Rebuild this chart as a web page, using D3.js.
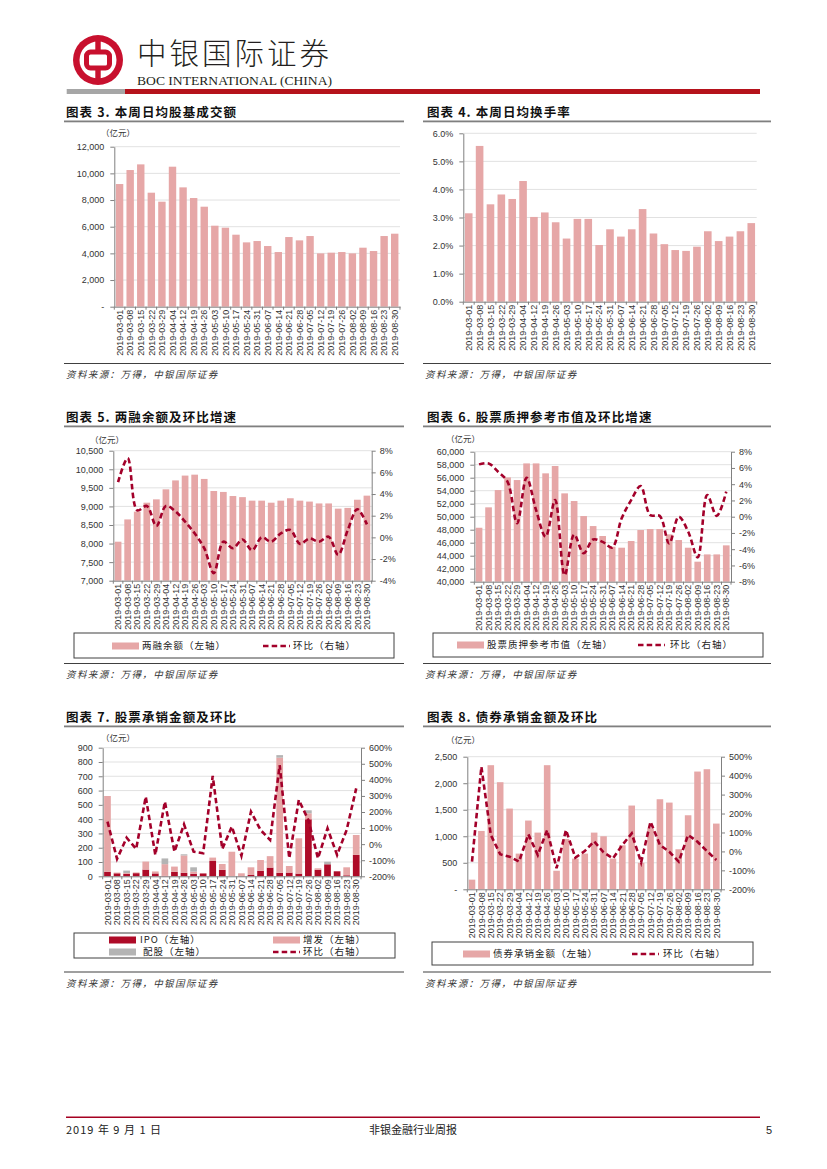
<!DOCTYPE html>
<html><head><meta charset="utf-8">
<script src="https://cdn.jsdelivr.net/npm/d3@7"></script>
<style>
html,body{margin:0;padding:0;background:#fff;}
svg{display:block;}
</style></head><body>
<svg id="page" width="827" height="1169"></svg>
<script>
// ---------- DATA ----------
const dates = ["2019-03-01","2019-03-08","2019-03-15","2019-03-22","2019-03-29","2019-04-04","2019-04-12","2019-04-19","2019-04-26","2019-05-03","2019-05-10","2019-05-17","2019-05-24","2019-05-31","2019-06-07","2019-06-14","2019-06-21","2019-06-28","2019-07-05","2019-07-12","2019-07-19","2019-07-26","2019-08-02","2019-08-09","2019-08-16","2019-08-23","2019-08-30"];

// 图表3 本周日均股基成交额 (亿元)
const turnoverAmt = [9200,10250,10675,8550,7875,10500,8950,8150,7500,6075,5925,5400,4825,4925,4550,4100,5225,4975,5300,4000,4050,4100,4000,4425,4175,5300,5475];
const ticks3 = [0,2000,4000,6000,8000,10000,12000];

// 图表4 本周日均换手率 (%)
const turnoverRate = [3.15,5.55,3.47,3.82,3.66,4.30,3.02,3.18,2.83,2.25,2.95,2.95,2.02,2.58,2.32,2.58,3.30,2.43,2.05,1.84,1.81,1.96,2.51,2.16,2.32,2.51,2.80];
const ticks4 = [0,1,2,3,4,5,6];

// 图表5 两融余额 (亿元) & 环比 (%)
const marginBal = [8050,8650,8860,9100,9190,9460,9700,9830,9855,9740,9415,9390,9280,9250,9155,9155,9100,9155,9220,9155,9130,9080,9080,8940,8960,9180,9290];
const marginChg = [5.1,7.3,2.5,2.9,1.05,2.9,2.4,1.45,0.37,-1.0,-3.3,-0.4,-1.0,-0.2,-1.2,0,-0.4,0.37,0.68,-0.6,-0.1,-0.4,0.06,-1.6,0.68,2.6,1.2];
const ticks5L = [7000,7500,8000,8500,9000,9500,10000,10500];
const ticks5R = [-4,-2,0,2,4,6,8];

// 图表6 股票质押参考市值 (亿元) & 环比 (%)
const pledgeVal = [48300,51440,54100,56050,55640,58200,58200,56670,57800,53590,52410,50100,48560,47030,45380,45230,46260,47950,48100,48100,47280,46410,45230,43080,44200,44200,45590];
const pledgeChg = [6.44,6.56,5.54,4.3,-0.8,4.8,0.8,-2.46,2.05,-7.2,-2.2,-4.5,-2.8,-3.1,-3.8,-0.2,2.05,3.77,0.2,0.1,-3.3,0,-1.85,-5.0,2.67,0.1,3.08];
const ticks6L = [40000,42000,44000,46000,48000,50000,52000,54000,56000,58000,60000];
const ticks6R = [-8,-6,-4,-2,0,2,4,6,8];

// 图表7 股票承销金额 (亿元) & 环比 (%)
const ipoAmt    = [32,21,17,22,47,20,3,31,24,17,20,107,45,0,2,9,38,61,24,26,19,399,46,84,35,7,150];
const seoAmt    = [530,5,6,5,56,14,82,37,122,16,0,24,41,172,19,54,76,80,806,46,247,42,10,0,0,56,139];
const rightsAmt = [0,0,17,0,0,0,40,0,8,30,0,0,0,0,0,0,0,0,18,0,0,21,0,18,0,0,0];
const equityChg = [140,-92,40,-30,295,-67,264,-47,123,-47,-57,424,-30,109,-72,202,88,26,492,-88,275,150,-88,98,-67,88,347];
const ticks7L = [0,100,200,300,400,500,600,700,800,900];
const ticks7R = [-200,-100,0,100,200,300,400,500,600];

// 图表8 债券承销金额 (亿元) & 环比 (%)
const bondAmt = [182,1100,2340,2019,1522,673,1296,1069,2340,350,950,579,673,1069,1000,579,830,1579,500,1150,1698,1635,755,1396,2220,2264,1239];
const bondChg = [-54,447,87,-15,-28,-54,90,-19,113,-89,113,-33,2,53,-5,-37,34,95,-58,157,34,-2,-54,87,51,2,-45];
const ticks8L = [0,500,1000,1500,2000,2500];
const ticks8R = [-200,-100,0,100,200,300,400,500];

// ---------- STYLE ----------
const CJK = '"Noto Sans CJK SC","Noto Sans",sans-serif';
const LAT = '"Liberation Sans",Arial,sans-serif';
const PINK = "#E6A7A7", DARK = "#AE0B28", GRAY = "#B4B4B4", LINE = "#A3002A";

const svg = d3.select("#page");
svg.append("rect").attr("width",827).attr("height",1169).attr("fill","#fff");

// ---------- HEADER ----------
const hd = svg.append("g");
hd.append("circle").attr("cx",98).attr("cy",60).attr("r",25).attr("fill","#C8102E");
hd.append("circle").attr("cx",98).attr("cy",60).attr("r",18.5).attr("fill","#fff");
hd.append("rect").attr("x",95.3).attr("y",40).attr("width",5.4).attr("height",40).attr("fill","#C8102E");
hd.append("rect").attr("x",86.5).attr("y",52).attr("width",23).attr("height",16).attr("rx",4).attr("fill","#fff").attr("stroke","#C8102E").attr("stroke-width",5);
hd.append("text").attr("x",137).attr("y",63.5).attr("font-family",CJK).attr("font-weight",300).attr("font-size",29.5).attr("letter-spacing",3).attr("fill","#231F20").text("中银国际证券");
hd.append("text").attr("x",137).attr("y",85).attr("font-family",'"Liberation Serif",serif').attr("font-size",13.5).attr("fill","#231F20")
  .attr("textLength",195).attr("lengthAdjust","spacingAndGlyphs").text("BOC INTERNATIONAL (CHINA)");
hd.append("rect").attr("x",66.7).attr("y",89).attr("width",58.3).attr("height",5).attr("fill","#A6A6A6");
hd.append("rect").attr("x",125).attr("y",89).attr("width",635).attr("height",5).attr("fill","#B5121B");

// ---------- FOOTER ----------
svg.append("rect").attr("x",66).attr("y",1116.5).attr("width",694).attr("height",1.5).attr("fill","#A50021");
svg.append("text").attr("x",66).attr("y",1134).attr("font-family",CJK).attr("font-size",11).attr("letter-spacing",1).attr("fill","#222").text("2019 年 9 月 1 日");
svg.append("text").attr("x",413).attr("y",1134).attr("text-anchor","middle").attr("font-family",CJK).attr("font-size",11).attr("fill","#222").text("非银金融行业周报");
svg.append("text").attr("x",772).attr("y",1134).attr("text-anchor","end").attr("font-family",LAT).attr("font-size",11).attr("fill","#222").text("5");

// ---------- PANEL ----------
function styleAxis(a){
  a.select(".domain").attr("stroke","#808080").attr("stroke-width",1);
  a.selectAll(".tick line").attr("stroke","#808080");
  a.selectAll("text").attr("font-family",LAT).attr("font-size",9).attr("fill","#333");
}

function drawPanel(c){
  const g = svg.append("g");
  g.append("text").attr("x",c.tx).attr("y",c.ty).attr("font-family",CJK).attr("font-weight",700)
    .attr("font-size",12.5).attr("letter-spacing",1.1).attr("fill","#111").text(c.title);
  g.append("rect").attr("x",c.lx1).attr("y",c.ty+3.5).attr("width",c.lx2-c.lx1).attr("height",1.8).attr("fill","#7F7F7F");
  g.append("rect").attr("x",c.lx1).attr("y",c.by).attr("width",c.lx2-c.lx1).attr("height",1).attr("fill","#404040");
  g.append("text").attr("x",c.lx1+2).attr("y",c.by+15).attr("font-family",CJK).attr("font-style","italic")
    .attr("font-size",9.5).attr("letter-spacing",1.4).attr("fill","#333").text("资料来源：万得，中银国际证券");
  if (c.unit) g.append("text").attr("x",c.unit[0]).attr("y",c.unit[1]).attr("font-family",CJK).attr("font-size",8.5).attr("fill","#333").text("（亿元）");

  const x = d3.scaleBand().domain(dates).range([c.x0,c.x1]).paddingInner(0.3).paddingOuter(0.15);
  const yL = d3.scaleLinear().domain(c.lDomain).range([c.yB,c.yT]);

  g.append("g").selectAll("line").data(c.lTicks.filter(t=>t!==c.lDomain[0])).join("line")
    .attr("x1",c.x0).attr("x2",c.x1).attr("y1",d=>yL(d)).attr("y2",d=>yL(d))
    .attr("stroke","#D9D9D9").attr("stroke-width",0.8);

  if (c.stack){
    const rows = dates.map((d,i)=>({date:d, ipo:ipoAmt[i], seo:seoAmt[i], rights:rightsAmt[i]}));
    const keys = ["ipo","seo","rights"], cols = {ipo:DARK, seo:PINK, rights:GRAY};
    const series = d3.stack().keys(keys)(rows);
    g.append("g").selectAll("g").data(series).join("g").attr("fill",s=>cols[s.key])
      .selectAll("rect").data(s=>s).join("rect")
      .attr("x",d=>x(d.data.date)).attr("width",x.bandwidth())
      .attr("y",d=>yL(d[1])).attr("height",d=>yL(d[0])-yL(d[1]));
  } else {
    g.append("g").selectAll("rect").data(dates.map((d,i)=>({d, v:c.bars[i]}))).join("rect")
      .attr("x",d=>x(d.d)).attr("width",x.bandwidth())
      .attr("y",d=>yL(d.v)).attr("height",d=>c.yB-yL(d.v)).attr("fill",PINK);
  }

  if (c.line){
    const yR = d3.scaleLinear().domain(c.rDomain).range([c.yB,c.yT]);
    const ln = d3.line().x((v,i)=>x(dates[i])+x.bandwidth()/2).y(v=>yR(v)).curve(c.curve);
    g.append("path").attr("d",ln(c.line)).attr("fill","none").attr("stroke",LINE)
      .attr("stroke-width",2.6).attr("stroke-dasharray","5.5,3.2");
    const ar = g.append("g").attr("transform",`translate(${c.x1},0)`)
      .call(d3.axisRight(yR).tickValues(c.rTicks).tickFormat(c.rFmt).tickSize(4).tickPadding(4).tickSizeOuter(0));
    styleAxis(ar);
  }

  const al = g.append("g").attr("transform",`translate(${c.x0},0)`)
    .call(d3.axisLeft(yL).tickValues(c.lTicks).tickFormat(c.lFmt).tickSize(4).tickPadding(6).tickSizeOuter(0));
  styleAxis(al);

  const ab = g.append("g").attr("transform",`translate(0,${c.yB})`)
    .call(d3.axisBottom(x).tickSize(0).tickPadding(0).tickSizeOuter(0));
  ab.select(".domain").attr("stroke","#808080");
  ab.selectAll("text").attr("transform","rotate(-90)").attr("x",-3).attr("y",0).attr("dy","0.36em")
    .attr("text-anchor","end").attr("font-family",LAT).attr("font-size",9).attr("fill","#333");
  const step = x.step();
  const bounds = d3.range(dates.length+1).map(i=>c.x0 + (i===0?0:(i===dates.length? (c.x1-c.x0) : x(dates[i]) - c.x0 - step*0.15)));
  g.append("g").selectAll("line").data(bounds).join("line")
    .attr("x1",d=>d).attr("x2",d=>d).attr("y1",c.yB).attr("y2",c.yB+3).attr("stroke","#808080");

  if (c.legend){
    const L = c.legend;
    g.append("rect").attr("x",L.box[0]).attr("y",L.box[1]).attr("width",L.box[2]).attr("height",L.box[3])
      .attr("fill","none").attr("stroke","#404040").attr("stroke-width",1);
    L.items.forEach(it=>{
      if (it.type==="dash"){
        g.append("line").attr("x1",it.x).attr("x2",it.x+27).attr("y1",it.y).attr("y2",it.y)
          .attr("stroke",LINE).attr("stroke-width",2.6).attr("stroke-dasharray","5.5,3.2");
      } else {
        g.append("rect").attr("x",it.x).attr("y",it.y-3.5).attr("width",27).attr("height",7).attr("fill",it.color);
      }
      g.append("text").attr("x",it.x+it.tx).attr("y",it.y+3.4).attr("font-family",CJK).attr("font-size",9.5)
        .attr("letter-spacing",1).attr("fill","#222").text(it.label);
    });
  }
}

const fmtDash = v => v===0 ? "-" : d3.format(",")(v);
const fmtComma = d3.format(",");
const fmtPct = v => v + "%";

drawPanel({title:"图表 3. 本周日均股基成交额", tx:66, ty:117, lx1:64, lx2:404, by:363, unit:[101,136],
  x0:114.3, x1:400, yT:146.7, yB:306.7, lDomain:[0,12000], lTicks:ticks3, lFmt:fmtDash, bars:turnoverAmt});

drawPanel({title:"图表 4. 本周日均换手率", tx:427, ty:117, lx1:423, lx2:771, by:363,
  x0:463.3, x1:756.7, yT:133.3, yB:301.7, lDomain:[0,6], lTicks:ticks4, lFmt:v=>v.toFixed(1)+"%", bars:turnoverRate});

drawPanel({title:"图表 5. 两融余额及环比增速", tx:66, ty:422, lx1:64, lx2:404, by:663, unit:[90,443],
  x0:113.3, x1:371.7, yT:450.7, yB:580.7, lDomain:[7000,10500], lTicks:ticks5L, lFmt:fmtComma, bars:marginBal,
  line:marginChg, rDomain:[-4,8], rTicks:ticks5R, rFmt:fmtPct, curve:d3.curveCatmullRom.alpha(0.5),
  legend:{box:[74,633,320,25], items:[
    {type:"rect", color:PINK, x:112, y:646, tx:30, label:"两融余额（左轴）"},
    {type:"dash", x:263, y:646, tx:30, label:"环比（右轴）"}]}});

drawPanel({title:"图表 6. 股票质押参考市值及环比增速", tx:427, ty:422, lx1:423, lx2:771, by:663, unit:[446,442],
  x0:474.3, x1:731, yT:451.7, yB:581.7, lDomain:[40000,60000], lTicks:ticks6L, lFmt:fmtComma, bars:pledgeVal,
  line:pledgeChg, rDomain:[-8,8], rTicks:ticks6R, rFmt:fmtPct, curve:d3.curveCatmullRom.alpha(0.5),
  legend:{box:[433,633,330,24], items:[
    {type:"rect", color:PINK, x:457, y:645, tx:30, label:"股票质押参考市值（左轴）"},
    {type:"dash", x:638, y:645, tx:32, label:"环比（右轴）"}]}});

drawPanel({title:"图表 7. 股票承销金额及环比", tx:66, ty:722, lx1:64, lx2:404, by:971.5, unit:[101,741],
  x0:102.7, x1:361, yT:747.7, yB:876.3, lDomain:[0,900], lTicks:ticks7L, lFmt:fmtComma, stack:true,
  line:equityChg, rDomain:[-200,600], rTicks:ticks7R, rFmt:fmtPct, curve:d3.curveLinear,
  legend:{box:[74,933,321,25], items:[
    {type:"rect", color:DARK, x:109, y:940, tx:31, label:"IPO（左轴）"},
    {type:"rect", color:PINK, x:273, y:940, tx:30, label:"增发（左轴）"},
    {type:"rect", color:GRAY, x:109, y:952, tx:34, label:"配股（左轴）"},
    {type:"dash", x:273, y:952, tx:30, label:"环比（右轴）"}]}});

drawPanel({title:"图表 8. 债券承销金额及环比", tx:427, ty:722, lx1:423, lx2:771, by:971.5, unit:[446,743],
  x0:467.3, x1:721, yT:756.7, yB:889.3, lDomain:[0,2500], lTicks:ticks8L, lFmt:fmtDash, bars:bondAmt,
  line:bondChg, rDomain:[-200,500], rTicks:ticks8R, rFmt:fmtPct, curve:d3.curveLinear,
  legend:{box:[432,942,321,23], items:[
    {type:"rect", color:PINK, x:463, y:954, tx:30, label:"债券承销金额（左轴）"},
    {type:"dash", x:632, y:954, tx:31, label:"环比（右轴）"}]}});
</script>
</body></html>
